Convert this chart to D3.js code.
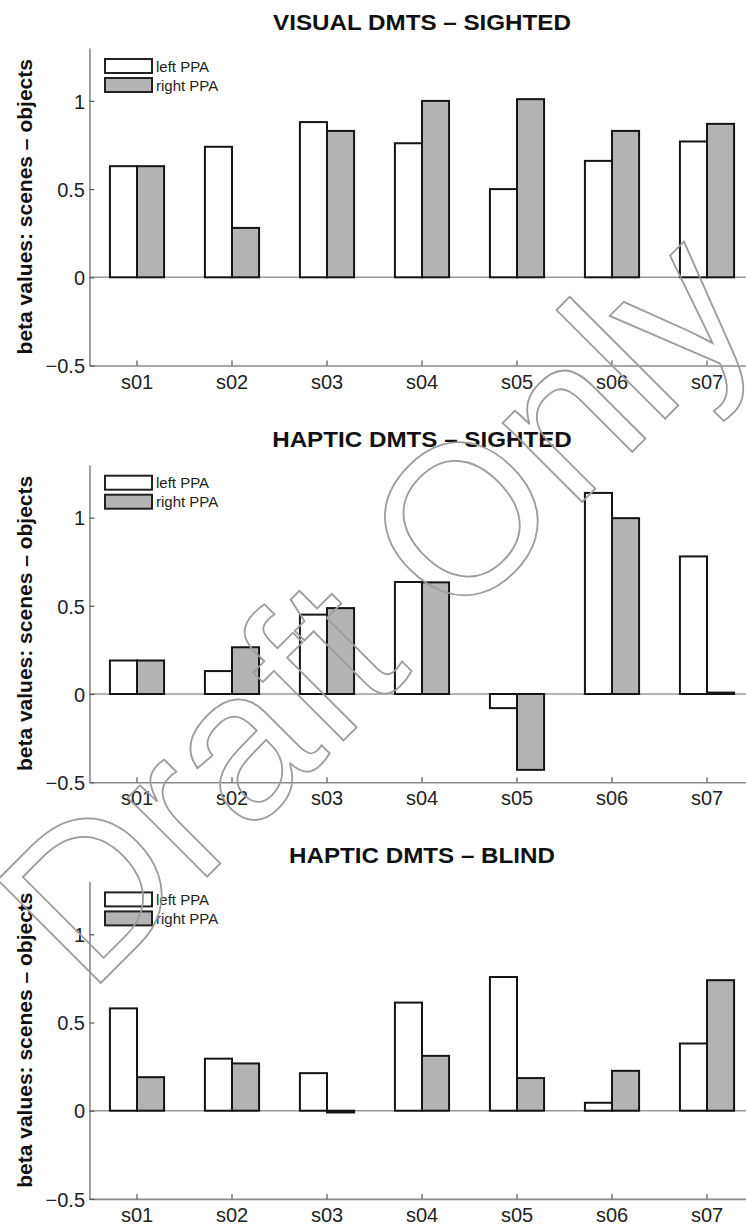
<!DOCTYPE html>
<html>
<head>
<meta charset="utf-8">
<script src="https://cdn.jsdelivr.net/npm/d3@7/dist/d3.min.js"></script>
<style>
  html, body { margin: 0; padding: 0; background: #fff; }
  svg { display: block; }
  text { font-family: "Liberation Sans", Arial, Helvetica, sans-serif; }
</style>
</head>
<body>
<svg id="chart" width="746" height="1225"></svg>
<script>
// ---- data ----
const categories = ["s01", "s02", "s03", "s04", "s05", "s06", "s07"];
const seriesNames = ["left PPA", "right PPA"];
const panelTitles = ["VISUAL DMTS \u2013 SIGHTED", "HAPTIC DMTS \u2013 SIGHTED", "HAPTIC DMTS \u2013 BLIND"];
const visualSightedLeft  = [0.63, 0.74, 0.88, 0.76, 0.50, 0.66, 0.77];
const visualSightedRight = [0.63, 0.28, 0.83, 1.00, 1.01, 0.83, 0.87];
const hapticSightedLeft  = [0.19, 0.13, 0.45, 0.635, -0.08, 1.14, 0.78];
const hapticSightedRight = [0.19, 0.265, 0.487, 0.633, -0.43, 0.997, 0.008];
const hapticBlindLeft    = [0.58, 0.295, 0.213, 0.613, 0.758, 0.045, 0.381];
const hapticBlindRight   = [0.19, 0.268, -0.01, 0.311, 0.185, 0.226, 0.74];
const yTicks = [-0.5, 0, 0.5, 1];
const yTickLabels = ["\u22120.5", "0", "0.5", "1"];
const yDomain = [-0.5, 1.3];
const yAxisLabel = "beta values: scenes \u2013 objects";
const watermarkText = "Draft Only";

const panels = [
  [visualSightedLeft, visualSightedRight],
  [hapticSightedLeft, hapticSightedRight],
  [hapticBlindLeft, hapticBlindRight]
];

// ---- layout ----
const svg = d3.select("#chart");
const left = 89.5, right = 754.5;
const firstTop = 48, panelStep = 416.7, plotH = 317.5;
const fills = ["#ffffff", "#b3b3b3"];
const axisColor = "#8a8a8a";

const x = d3.scaleBand().domain(categories).range([left, right]).paddingInner(0.43).paddingOuter(0.215);
const xs = d3.scaleBand().domain(seriesNames).range([0, x.bandwidth()]);

panels.forEach((vals, pi) => {
  const top = firstTop + pi * panelStep;
  const bottom = top + plotH;
  const y = d3.scaleLinear().domain(yDomain).range([bottom, top]);
  const g = svg.append("g");

  // title
  g.append("text")
    .attr("transform", `translate(${(left + right) / 2},${top - 18}) scale(1.1,1)`)
    .attr("text-anchor", "middle")
    .attr("font-weight", "bold").attr("font-size", 22)
    .attr("fill", "#111")
    .text(panelTitles[pi]);

  // y axis label
  g.append("text")
    .attr("transform", `translate(32,${(top + bottom) / 2}) rotate(-90)`)
    .attr("text-anchor", "middle")
    .attr("font-weight", "bold").attr("font-size", 21)
    .attr("fill", "#111")
    .text(yAxisLabel);

  // zero line
  g.append("line")
    .attr("x1", left).attr("x2", right)
    .attr("y1", y(0)).attr("y2", y(0))
    .attr("stroke", "#9a9a9a").attr("stroke-width", 1.5);

  // bars
  const rows = categories.map((c, i) => seriesNames.map((s, k) => ({ c, s, v: vals[k][i], k })));
  g.append("g").selectAll("g").data(rows).join("g")
    .attr("transform", d => `translate(${x(d[0].c)},0)`)
    .selectAll("rect").data(d => d).join("rect")
    .attr("x", d => xs(d.s))
    .attr("width", xs.bandwidth())
    .attr("y", d => y(Math.max(0, d.v)))
    .attr("height", d => Math.abs(y(d.v) - y(0)))
    .attr("fill", d => fills[d.k])
    .attr("stroke", "#151515").attr("stroke-width", 2);

  // x axis
  const xAxis = d3.axisBottom(x).tickSize(0).tickPadding(0);
  const xg = g.append("g").attr("transform", `translate(0,${bottom})`).call(xAxis);
  xg.select(".domain").attr("stroke", axisColor).attr("stroke-width", 1.6);
  xg.selectAll(".tick line").remove();
  xg.selectAll(".tick").append("line")
    .attr("y1", 0).attr("y2", -5).attr("stroke", "#555").attr("stroke-width", 1.2);
  xg.selectAll(".tick text")
    .attr("dy", 0).attr("y", 23)
    .attr("font-size", 20).attr("fill", "#222")
    .style("font-family", "'Liberation Sans', Arial, sans-serif");

  // y axis
  const yAxis = d3.axisLeft(y).tickValues(yTicks)
    .tickFormat((d, i) => yTickLabels[i]).tickSize(0).tickPadding(4.5);
  const yg = g.append("g").attr("transform", `translate(${left},0)`).call(yAxis);
  yg.select(".domain").attr("stroke", axisColor).attr("stroke-width", 1.6);
  yg.selectAll(".tick line").remove();
  yg.selectAll(".tick").append("line")
    .attr("x1", 0).attr("x2", 5).attr("stroke", "#555").attr("stroke-width", 1.2);
  yg.selectAll(".tick text")
    .attr("dy", "0.36em")
    .attr("font-size", 20).attr("fill", "#222")
    .style("font-family", "'Liberation Sans', Arial, sans-serif");

  // legend
  const lg = g.append("g").attr("transform", `translate(105,${top + 11})`);
  seriesNames.forEach((s, k) => {
    lg.append("rect")
      .attr("x", 0).attr("y", k * 19).attr("width", 47).attr("height", 14)
      .attr("fill", fills[k]).attr("stroke", "#222").attr("stroke-width", 2);
    lg.append("text")
      .attr("x", 51).attr("y", k * 19 + 12.5)
      .attr("font-size", 15).attr("fill", "#222")
      .text(s);
  });
});

// watermark
svg.append("text")
  .attr("transform", "translate(372,604) rotate(-45)")
  .attr("text-anchor", "middle")
  .attr("dy", "0.36em")
  .attr("font-size", 212)
  .attr("fill", "none")
  .attr("stroke", "#9c9c9c").attr("stroke-width", 1.8)
  .text(watermarkText);
</script>
</body>
</html>
